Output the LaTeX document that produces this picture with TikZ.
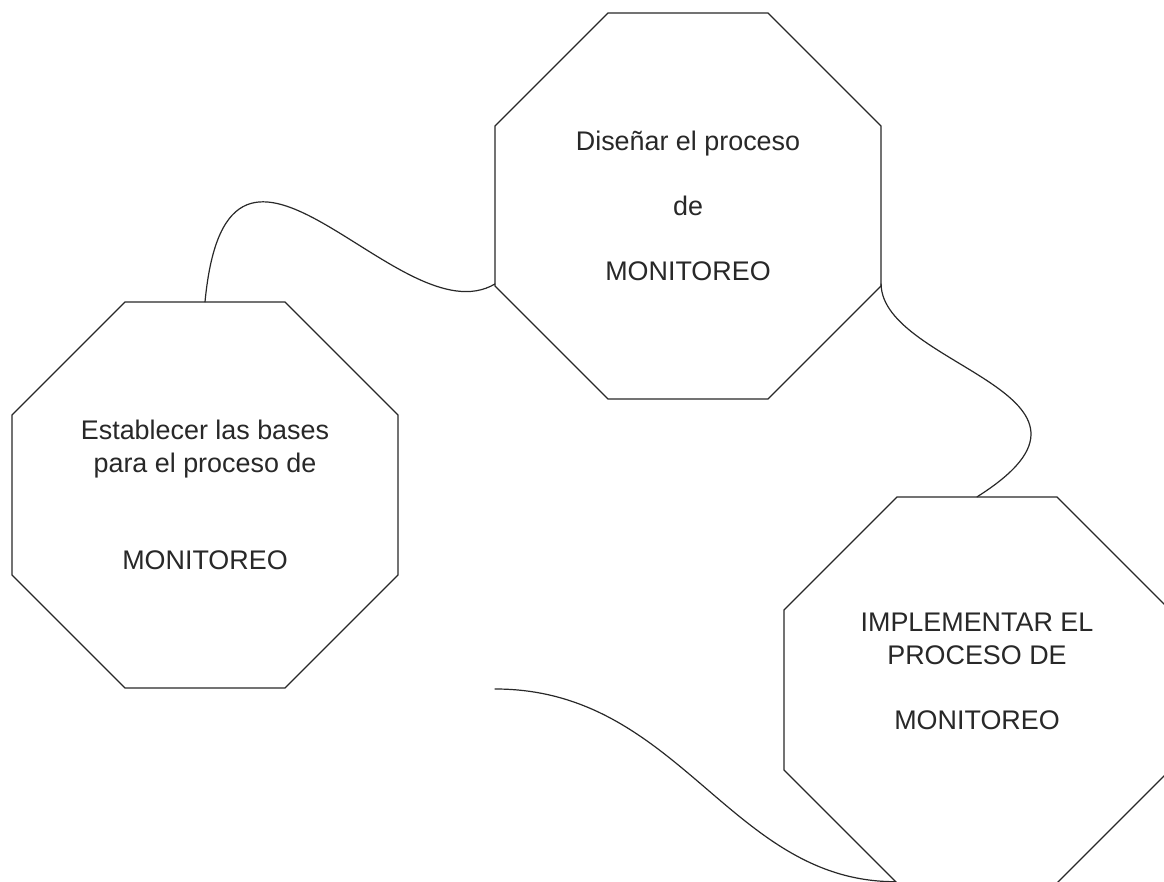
\documentclass[tikz,border=0pt]{standalone}
\usepackage{fontspec}
\setsansfont{Liberation Sans}
\usepackage{tikz}
\tikzset{every picture/.style={/utils/exec={\sffamily}}}
\usetikzlibrary{shapes.geometric}

\begin{document}
\begin{tikzpicture}[x=1pt,y=1pt,
  octa/.style={draw=drawColor,line width=1.2pt,line join=round,regular polygon,regular polygon sides=8,minimum size=418pt,inner sep=0pt,outer sep=0pt},
  lbl/.style={text=drawColor,align=center,inner sep=0pt,outer sep=0pt,font=\fontsize{26.9}{33}\selectfont},
  link/.style={draw=drawColor,line width=1.2pt,line join=round,line cap=round}]
\definecolor{fillColor}{RGB}{255,255,255}
\definecolor{drawColor}{RGB}{40,40,40}
\path[use as bounding box,fill=fillColor] (0,0) rectangle (1164,882);
\begin{scope}
\path[clip] (0,0) rectangle (1164,882);

% octagons
\node[octa] (est) at (205,387) {};
\node[octa] (dis) at (688,676) {};
\node[octa] (imp) at (977,192) {};

\node[lbl] (esttxt) at (est.center) {Establecer las bases\\para el proceso de\\[64pt]MONITOREO};
\node[lbl] (distxt) at (dis.center) {Diseñar el proceso\\[32pt]de\\[32pt]MONITOREO};
\node[lbl,yshift=19pt] (imptxt) at (imp.center) {IMPLEMENTAR EL\\PROCESO DE\\[32pt]MONITOREO};

% curves
\coordinate (free) at (495,193);
\path[link] (est.north) .. controls (228,822) and (400,542) .. (dis.202.5);
\path[link] (dis.-22.5) .. controls (882,515) and (1140,488) .. (imp.north);
\path[link] (free) .. controls (680,193) and (730,0) .. (imp.247.5);
\end{scope}
\end{tikzpicture}
\end{document}
